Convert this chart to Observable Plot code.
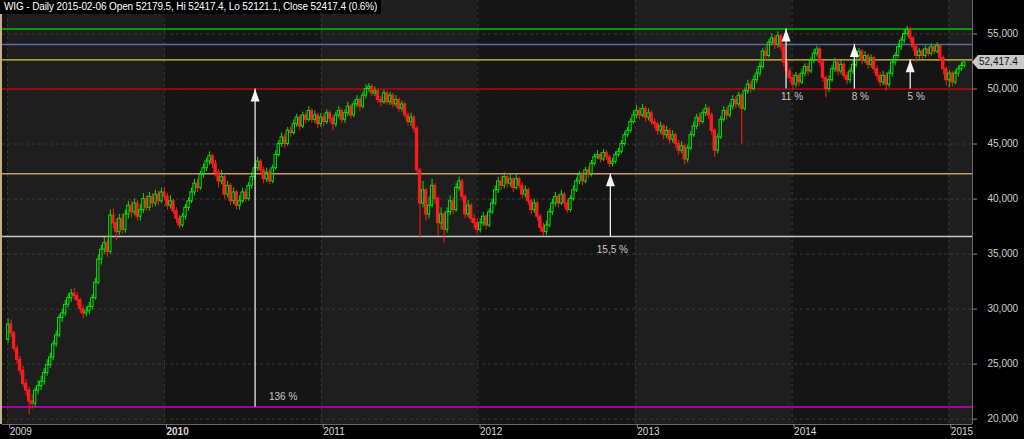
<!DOCTYPE html>
<html><head><meta charset="utf-8">
<script src="https://cdn.jsdelivr.net/npm/d3@7"></script>
<script src="https://cdn.jsdelivr.net/npm/@observablehq/plot@0.6"></script>
<style>
html,body{margin:0;padding:0;background:#000;}
#wrap{position:relative;width:1024px;height:439px;overflow:hidden;background:#000;}
#title{position:absolute;left:0;top:0;background:#000;color:#fff;font:10px "Liberation Sans",Arial,sans-serif;letter-spacing:-0.12px;padding:1px 4px 2px 4px;white-space:nowrap;line-height:11px;z-index:2;}
svg{display:block;}
</style></head><body>
<div id="wrap"><div id="title">WIG - Daily 2015-02-06 Open 52179.5, Hi 52417.4, Lo 52121.1, Close 52417.4 (0.6%)</div></div>
<script>
// ---- data (thousands of index points), weekly candles from 2009-01-02 to 2015-02-06 ----
const firstOpen = 27.2;
const closes = [
 28.6,27.8,26.4,25.4,24.4,23.2,22.6,21.6,21.4,22.6,23.0,23.4,24.2,24.9,25.6,26.8,27.6,29.2,29.6,30.4,31.0,31.4,31.2,30.8,30.0,29.6,29.8,30.2,31.0,32.4,34.5,35.4,36.0,35.2,38.5,37.8,37.0,38.2,37.2,38.6,39.4,38.8,39.6,38.4,39.0,40.0,39.2,40.2,39.6,40.4,39.8,40.6,
 40.2,39.4,39.8,38.9,38.2,37.6,38.4,39.2,39.8,40.6,41.4,41.0,42.2,42.8,43.4,43.9,43.2,42.4,41.6,42.0,40.4,41.2,39.8,40.6,39.4,39.8,40.6,40.0,41.2,42.0,42.8,43.4,42.6,41.8,42.4,41.6,42.8,44.0,45.0,45.6,45.0,46.2,46.0,46.8,47.4,46.6,47.6,47.2,48.0,47.2,47.6,46.8,
 47.4,47.0,47.8,47.3,46.8,47.6,48.0,47.2,47.8,48.4,47.6,48.6,49.0,48.4,49.4,50.0,50.2,49.6,49.8,49.0,48.8,49.6,48.8,49.4,48.6,49.0,48.2,48.6,47.6,47.0,47.4,46.4,42.6,39.6,40.8,38.6,39.4,41.2,40.0,37.8,38.6,37.2,38.8,39.8,39.0,41.0,41.6,40.2,38.6,39.4,38.2,37.8,
 37.2,37.8,38.4,37.6,38.8,39.6,40.8,41.6,41.2,42.0,41.4,41.8,41.0,41.8,41.2,40.4,40.8,39.8,39.0,39.6,38.4,37.4,37.0,37.6,38.8,39.6,40.2,39.6,40.4,39.6,39.0,40.0,40.8,41.6,42.2,41.6,42.6,42.2,43.2,43.8,44.0,43.6,44.2,43.8,43.2,43.4,44.0,44.3,45.0,45.8,46.2,47.0,
 47.6,48.0,47.6,48.2,47.4,47.8,47.0,46.8,46.2,46.6,45.8,46.2,45.4,45.8,45.0,44.4,44.8,43.6,44.6,45.8,46.6,47.4,47.0,47.8,48.2,47.6,46.2,44.4,45.6,47.2,48.0,47.6,48.4,49.0,48.6,49.4,48.2,49.8,50.4,50.0,50.8,51.4,52.0,53.4,53.0,54.2,54.6,54.0,54.8,53.8,52.4,51.6,
 51.0,50.4,51.2,50.6,51.4,52.0,51.6,52.6,53.2,53.6,52.4,51.0,50.0,50.8,51.8,52.4,51.6,52.2,51.2,50.8,51.6,52.2,53.0,53.4,52.6,53.0,52.2,52.8,51.8,51.2,50.6,51.2,50.4,51.4,52.4,53.0,53.8,54.4,55.0,55.4,54.6,53.8,53.0,53.4,53.0,53.6,53.2,53.8,53.4,53.9,52.8,51.8,
 50.8,51.4,50.6,51.4,51.8,52.1,52.4174
];
const highs = [
 29.1,29.0,28.0,26.7,25.7,24.8,23.6,22.9,22.2,22.9,23.5,23.9,24.6,25.4,26.0,27.1,28.0,29.5,30.0,30.8,31.4,31.8,31.9,31.5,31.0,30.3,30.2,30.6,31.3,32.8,34.9,35.8,36.5,36.4,39.0,39.1,38.2,38.6,38.6,39.0,39.8,39.8,40.0,39.9,39.5,40.5,40.3,40.6,40.5,40.8,40.7,41.0,
 41.0,40.5,40.3,40.0,39.2,38.5,38.7,39.5,40.1,41.0,41.8,41.8,42.5,43.2,43.7,44.3,44.1,43.5,42.7,42.6,42.2,41.6,41.4,41.0,40.8,40.3,41.0,40.9,41.5,42.4,43.2,43.8,43.6,42.9,42.8,42.7,43.1,44.4,45.3,46.0,45.9,46.5,46.6,47.2,47.7,47.6,47.9,47.9,48.4,48.2,48.0,47.8,
 47.8,47.7,48.1,48.0,47.5,47.9,48.4,48.2,48.1,48.8,48.6,48.9,49.4,49.2,49.7,50.4,50.5,50.4,50.2,50.0,49.3,49.9,49.8,49.7,49.6,49.4,49.2,48.9,48.8,47.9,47.8,47.6,46.6,42.8,41.6,41.0,40.2,41.8,41.4,40.2,39.2,38.8,39.2,40.3,40.1,41.4,42.0,41.8,40.4,39.9,39.6,38.6,
 38.2,38.2,38.8,38.6,39.1,40.0,41.2,42.0,42.1,42.4,42.3,42.2,42.0,42.2,42.0,41.5,41.2,41.0,40.0,40.0,39.8,38.6,37.8,38.0,39.1,40.0,40.6,40.4,40.8,40.6,39.9,40.3,41.2,41.9,42.5,42.4,42.9,42.9,43.5,44.1,44.4,44.2,44.5,44.4,44.0,43.7,44.3,44.6,45.3,46.1,46.5,47.3,
 48.0,48.5,48.3,48.6,48.4,48.2,48.0,47.3,47.0,47.0,46.8,46.6,46.4,46.2,46.0,45.3,45.2,45.0,44.9,46.1,47.0,47.7,47.8,48.1,48.6,48.4,47.8,46.4,45.9,47.5,48.4,48.3,48.7,49.4,49.3,49.7,49.6,50.1,50.8,50.7,51.2,51.8,52.4,53.7,53.8,54.5,55.0,54.9,55.2,55.0,54.0,52.6,
 51.9,51.3,51.5,51.4,51.8,52.3,52.3,52.9,53.6,53.9,53.8,52.6,51.2,51.2,52.1,52.8,52.6,52.6,52.4,51.5,51.9,52.6,53.3,53.7,53.6,53.4,53.2,53.1,53.0,52.1,51.5,51.6,51.5,51.7,52.7,53.3,54.1,54.7,55.3,55.7,55.6,54.8,54.0,53.7,53.6,53.9,53.8,54.1,54.0,54.2,54.0,53.0,
 52.0,51.7,51.6,51.7,52.1,52.4,52.4174
];
const lows = [
 26.9,27.4,26.1,25.0,24.0,22.9,22.1,20.4,20.9,21.1,22.2,22.6,23.1,23.9,24.6,25.3,26.5,27.4,28.8,29.3,30.1,30.6,30.8,30.3,29.6,29.1,29.3,29.5,29.9,30.8,32.2,34.0,35.0,34.7,35.0,37.3,36.2,36.7,36.8,36.9,38.2,38.3,38.5,38.0,38.0,38.7,38.9,38.9,39.2,39.3,39.4,39.6,
 39.9,39.0,39.1,38.6,37.8,37.3,37.4,38.1,38.9,39.6,40.3,40.6,40.8,41.9,42.5,43.1,42.8,42.0,41.0,41.3,40.0,40.1,39.4,39.5,39.0,39.0,39.6,39.7,39.8,40.9,41.7,42.5,42.2,41.4,41.5,41.3,41.4,42.6,43.8,44.7,44.6,44.8,45.6,45.8,46.5,46.2,46.4,46.8,47.0,46.9,46.9,46.4,
 46.5,46.6,46.8,46.9,46.2,46.5,47.3,46.9,46.9,47.5,47.3,47.4,48.3,48.0,48.2,49.1,49.7,49.3,49.3,48.7,48.4,48.6,48.5,48.5,48.3,48.3,47.9,47.9,47.3,46.6,46.6,46.0,42.3,36.5,39.2,38.0,38.2,39.2,39.5,36.6,37.2,36.0,36.9,38.5,38.6,38.8,40.7,39.8,38.2,38.3,37.8,37.3,
 36.8,36.9,37.5,37.2,37.4,38.6,39.4,40.5,40.8,40.9,41.0,41.1,40.6,40.8,40.9,40.0,40.1,39.4,38.6,38.7,38.0,37.0,36.6,36.7,37.4,38.5,39.3,39.2,39.4,39.2,38.7,38.8,39.8,40.6,41.3,41.2,41.4,41.9,42.0,43.0,43.6,43.3,43.4,43.5,42.9,42.9,43.2,43.8,44.1,44.8,45.6,46.0,
 46.8,47.3,47.2,47.4,47.0,47.1,46.7,46.4,45.8,45.9,45.4,45.5,45.0,45.1,44.6,44.0,44.1,43.1,43.3,44.4,45.6,46.3,46.6,46.8,47.5,47.2,45.8,43.8,44.1,45.4,47.0,47.2,47.4,48.1,48.2,48.3,45.0,48.0,49.5,49.6,49.8,50.5,51.1,51.8,52.6,52.8,53.9,53.6,53.7,53.4,52.0,51.0,
 50.6,49.9,50.1,50.2,50.4,51.1,51.2,51.4,52.3,52.9,52.0,50.6,49.2,49.7,50.6,51.5,51.2,51.3,50.9,50.4,50.5,51.3,51.9,52.7,52.2,52.3,51.8,51.9,51.4,50.8,50.2,50.3,49.8,50.1,51.1,52.1,52.8,53.5,54.1,54.8,54.2,53.4,52.4,52.7,52.7,52.8,52.9,53.0,53.1,53.2,52.5,51.3,
 50.3,50.1,50.2,50.4,51.1,51.6,51.9
];
const yTicks = [20000, 25000, 30000, 35000, 40000, 45000, 50000, 55000];
const yearLabels = [2009, 2010, 2011, 2012, 2013, 2014, 2015];
const levelValues = [55450, 54050, 52650, 50000, 42300, 36600, 21100];
const levelColors = ["#00c400", "#5a6c9c", "#d8cc44", "#c00000", "#c49a70", "#c8c8c8", "#c800c8"];
const arrowDates = ["2010-07-31", "2012-11-04", "2013-12-18", "2014-05-26", "2014-10-03"];
const arrowFrom = [21100, 36600, 50000, 50000, 50000];
const arrowTo = [50000, 42300, 55450, 54050, 52650];
const arrowLabels = ["136 %", "15,5 %", "11 %", "8 %", "5 %"];
const lastClose = 52417.4;

// ---- build tables ----
const fridays = d3.utcFriday.range(new Date(Date.UTC(2009, 0, 2)), new Date(Date.UTC(2015, 1, 7)));
const weeks = closes.map((c, i) => {
  const open = i === 0 ? firstOpen : closes[i - 1];
  const o = open * 1000, cl = c * 1000;
  return {date: fridays[i], open: o, close: cl,
    high: Math.max(highs[i] * 1000, o, cl), low: Math.min(lows[i] * 1000, o, cl), up: cl >= o};
});
const GREEN = "#00e400", RED = "#ff1c1c";
const up = weeks.filter(d => d.up), down = weeks.filter(d => !d.up);
const years = d3.utcYear.range(new Date(Date.UTC(2008, 0, 1)), new Date(Date.UTC(2016, 0, 1)));
const bands = years.map(d => ({x1: d, x2: d3.utcYear.offset(d, 1), dark: d.getUTCFullYear() % 2 === 0}));
const yearTicks = yearLabels.map(y => new Date(Date.UTC(y, 0, 1)));
const levels = levelValues.map((v, i) => ({value: v, color: levelColors[i]}));
const arrows = arrowDates.map((d, i) => ({date: new Date(d + "T00:00Z"), from: arrowFrom[i], to: arrowTo[i], label: arrowLabels[i]}));

const X0 = new Date(Date.UTC(2008, 11, 20)), X1 = new Date(Date.UTC(2015, 1, 25));
const Y0 = 19516, Y1 = 58044;
const halfBody = d => [d3.utcHour.offset(d.date, -66), d3.utcHour.offset(d.date, 66)];
const arrowHead = {draw(ctx) { ctx.moveTo(0, -6.5); ctx.lineTo(4.5, 6); ctx.lineTo(-4.5, 6); ctx.closePath(); }};
const fmtComma = d3.format(",");

const chart = Plot.plot({
  width: 1024, height: 439,
  marginLeft: 2, marginRight: 52, marginTop: 0, marginBottom: 15,
  style: {background: "#000", color: "#d0d0d0", fontFamily: "'Liberation Sans', Arial, sans-serif", fontSize: "10px"},
  x: {type: "utc", domain: [X0, X1]},
  y: {domain: [Y0, Y1]},
  color: {type: "identity"},
  marks: [
    Plot.rect(bands, {x1: "x1", x2: "x2", fill: d => d.dark ? "#151515" : "#1e1e1e", clip: true}),
    Plot.ruleY(yTicks, {stroke: "#3a3a3a", strokeDasharray: "3,3"}),
    Plot.ruleX(yearTicks, {stroke: "#3a3a3a", strokeDasharray: "3,3"}),
    Plot.ruleY(levels, {y: "value", stroke: "color", strokeWidth: 1.4}),
    // candles
    Plot.ruleX(weeks, {x: "date", y1: "high", y2: d => Math.max(d.open, d.close), stroke: d => d.up ? GREEN : RED}),
    Plot.ruleX(weeks, {x: "date", y1: d => Math.min(d.open, d.close), y2: "low", stroke: d => d.up ? GREEN : RED}),
    Plot.rect(down, {x1: d => halfBody(d)[0], x2: d => halfBody(d)[1], y1: "open", y2: "close", fill: RED, stroke: RED, strokeWidth: 1}),
    Plot.rect(up, {x1: d => halfBody(d)[0], x2: d => halfBody(d)[1], y1: "open", y2: "close", fill: "none", stroke: GREEN, strokeWidth: 1}),
    // arrows
    Plot.ruleX(arrows, {x: "date", y1: "from", y2: "to", stroke: "#e8e8e8", strokeWidth: 1.3}),
    Plot.dot(arrows, {x: "date", y: "to", symbol: arrowHead, r: 5, fill: "#f4f4f4", stroke: "none", dy: 6.5}),
    Plot.text(arrows.slice(0, 1), {x: "date", y: "from", text: "label", dx: 28, dy: -10, fill: "#c8c8c8", fontSize: 10}),
    Plot.text(arrows.slice(1, 2), {x: "date", y: "from", text: "label", dx: 2, dy: 13, fill: "#c8c8c8", fontSize: 10}),
    Plot.text(arrows.slice(2), {x: "date", y: "from", text: "label", dx: 6, dy: 8, fill: "#c8c8c8", fontSize: 10}),
    // frame edges
    Plot.ruleY([Y0], {stroke: "#6a6a6a"}),
    Plot.ruleX([X1], {stroke: "#6a6a6a"}),
    // axes
    Plot.axisX({ticks: yearTicks, tickFormat: d3.utcFormat("%Y"), tickSize: 4, tickPadding: -1, textAnchor: "start", dx: 2, stroke: "#8a8a8a", fill: "#d8d8d8", label: null}),
    Plot.axisY({anchor: "right", ticks: yTicks, tickFormat: fmtComma, tickSize: 4, tickPadding: 11, stroke: "#8a8a8a", fill: "#d0d0d0", label: null})
  ]
});

const svg = d3.select(chart);
// bold 2010 label as in the reference
svg.selectAll("text").filter(function() { return this.textContent === "2010"; }).attr("font-weight", "bold");
// left tan border of the price pane
const yr = chart.scale("y").range, xr = chart.scale("x").range;
svg.append("rect").attr("x", 0).attr("y", Math.min(...yr)).attr("width", 2).attr("height", Math.abs(yr[0] - yr[1])).attr("fill", "#c9ad82");
// last price tag on the right axis
const yy = chart.scale("y").apply(lastClose);
const xe = xr[1];
svg.append("path").attr("d", `M${xe},${yy} L${xe + 6},${yy - 7} L1024,${yy - 7} L1024,${yy + 7} L${xe + 6},${yy + 7} Z`).attr("fill", "#c8c8c8");
svg.append("text").attr("x", xe + 7).attr("y", yy).attr("dy", "0.35em").attr("text-anchor", "start").attr("fill", "#111").attr("font-size", 10)
  .attr("font-family", "'Liberation Sans', Arial, sans-serif").text(d3.format(",.1f")(lastClose));

document.getElementById("wrap").appendChild(chart);
</script>
</body></html>
